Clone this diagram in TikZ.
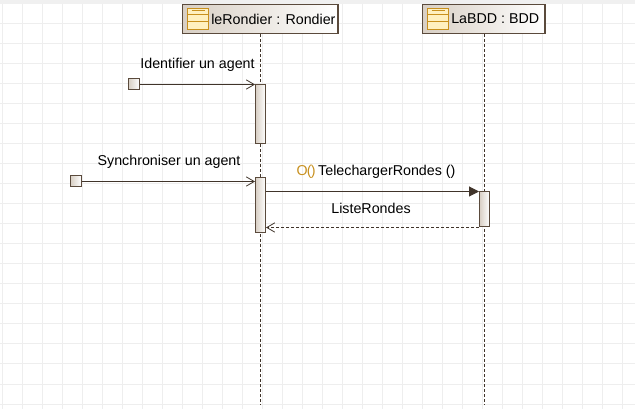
\documentclass[tikz,border=0pt]{standalone}
\usepackage{fontspec}
\setmainfont{Liberation Sans}
\usetikzlibrary{arrows.meta, positioning}

\definecolor{gridgray}{HTML}{EEEEEE}
\definecolor{bandgray}{HTML}{F0F0F0}
\definecolor{edgebrown}{HTML}{5A4A3C}
\definecolor{linebrown}{HTML}{40342A}
\definecolor{tanfill}{HTML}{D8CFC4}
\definecolor{iconedge}{HTML}{C8901E}
\definecolor{iconfill}{HTML}{FFF0C0}
\definecolor{opgold}{HTML}{C8901E}

\tikzset{
  lifebox/.style={draw=edgebrown, line width=.9pt, left color=tanfill, right color=white,
    inner sep=0pt, minimum height=21.75pt},
  activation/.style={draw=edgebrown, line width=.75pt, left color=tanfill, right color=white,
    inner sep=0pt, minimum width=7.5pt},
  startbox/.style={activation, minimum width=8.25pt, minimum height=8.25pt},
  classicon/.style={draw=iconedge, line width=.75pt, fill=iconfill, inner sep=0pt,
    minimum width=15.75pt, minimum height=15.75pt},
  iconline/.style={draw=iconedge, line width=.75pt},
  lifeline/.style={draw=linebrown, line width=.6pt, dash pattern=on 2.25pt off 1.5pt},
  msg/.style={draw=linebrown, line width=.75pt},
  async/.style={msg, -{Straight Barb[length=6pt, width=7pt, line width=.6pt]}},
  call/.style={msg, -{Triangle[length=7.5pt, width=7.5pt]}},
  reply/.style={msg, dash pattern=on 2.25pt off 1.5pt, -{Straight Barb[length=6pt, width=7pt, line width=.6pt]}},
  label/.style={inner sep=0pt, font=\fontsize{10.7}{13}\selectfont}
}

\begin{document}
\begin{tikzpicture}[x=.75pt, y=-.75pt]
\useasboundingbox (0,0) rectangle (635,409);

% background grid
\fill[white] (0,0) rectangle (635,409);
\foreach \gx in {2,22,...,622} {
  \draw[gridgray, line width=.75pt] (\gx,4) -- (\gx,409);
}
\foreach \gy in {24,44,...,404} {
  \draw[gridgray, line width=.75pt] (0,\gy) -- (635,\gy);
}
\fill[bandgray] (0,0) rectangle (635,4);

% lifelines
\node[lifebox, minimum width=116.6pt] (boxRondier) at (260.25,19) {};
\node[lifebox, minimum width=92pt] (boxBDD) at (483.75,19) {};
\coordinate (endRondier) at (260.25,405);
\coordinate (endBDD) at (484.25,405);
\draw[lifeline] (boxRondier.south) -- (endRondier);
\draw[lifeline] (boxBDD.south -| endBDD) -- (endBDD);

\node[classicon] (iconRondier) at (198,19) {};
\node[classicon] (iconBDD) at (438,19) {};
\draw[iconline] (iconRondier.west |- 0,15) -- (iconRondier.east |- 0,15);
\draw[iconline] (iconRondier.west |- 0,22) -- (iconRondier.east |- 0,22);
\draw[iconline] (191.5,11) -- (205,11);
\draw[iconline] (iconBDD.west |- 0,15) -- (iconBDD.east |- 0,15);
\draw[iconline] (iconBDD.west |- 0,22) -- (iconBDD.east |- 0,22);
\draw[iconline] (431.5,11) -- (445,11);

\node[label, right=1.5pt of iconRondier] (nameRondier) {leRondier : Rondier};
\node[label, right=1.5pt of iconBDD] (nameBDD) {LaBDD : BDD};

% activations
\node[activation, minimum height=44.25pt] (actIdentifier) at (260.5,114.5) {};
\node[activation, minimum height=41.25pt] (actSynchro) at (260.5,205.5) {};
\node[activation, minimum height=26.25pt] (actBDD) at (484.5,209.5) {};

% start points
\node[startbox] (startIdentifier) at (134,84.5) {};
\node[startbox] (startSynchro) at (76,181.5) {};

% messages
\draw[async] (startIdentifier.east) -- (startIdentifier.east -| actIdentifier.west);
\draw[async] (startSynchro.east) -- (startSynchro.east -| actSynchro.west);
\draw[call] (actBDD.north west -| actSynchro.east) -- (actBDD.north west);
\draw[reply] (actBDD.south west) -- (actBDD.south west -| actSynchro.east);

% labels
\node[label] (txtIdentifier) at (197.5,64.5) {Identifier un agent};
\node[label] (txtSynchro) at (169,162) {Synchroniser un agent};
\node[label] (txtCharger) at (376,171.5) {{\color{opgold}O\kern-.6pt(\kern-.6pt)}\kern-1pt\ TelechargerRondes ()};
\node[label] (txtListe) at (371,208) {ListeRondes};
\end{tikzpicture}
\end{document}
